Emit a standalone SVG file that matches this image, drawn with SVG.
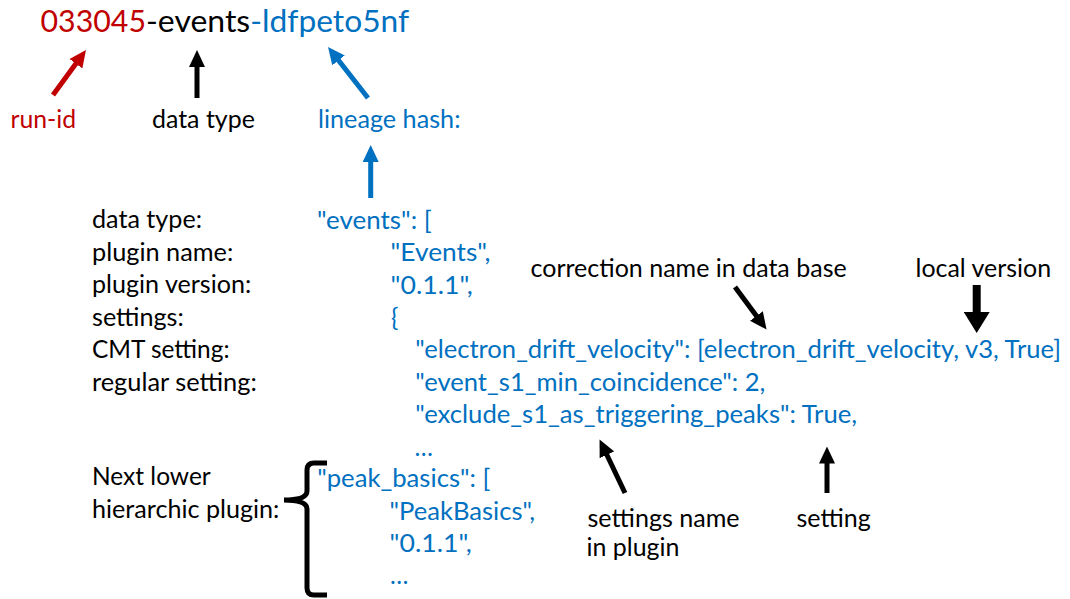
<svg xmlns="http://www.w3.org/2000/svg" width="1070" height="599" viewBox="0 0 1070 599">
<style>
text { font-family: Lato, "Liberation Sans", sans-serif; font-size: 24.5px; }
.k { fill: #000000; }
.b { fill: #0070C0; }
.r { fill: #C00000; }
.t { font-size: 31.5px; }
.ln { fill: none; stroke-width: 5; }
</style>
<defs>
<marker id="hk" markerUnits="userSpaceOnUse" markerWidth="17" markerHeight="16" viewBox="0 0 17 16" refX="2" refY="8" orient="auto"><path d="M0,0 L17,8 L0,16 z" fill="#000000"/></marker>
<marker id="hr" markerUnits="userSpaceOnUse" markerWidth="17" markerHeight="16" viewBox="0 0 17 16" refX="2" refY="8" orient="auto"><path d="M0,0 L17,8 L0,16 z" fill="#C00000"/></marker>
<marker id="hb" markerUnits="userSpaceOnUse" markerWidth="17" markerHeight="16" viewBox="0 0 17 16" refX="2" refY="8" orient="auto"><path d="M0,0 L17,8 L0,16 z" fill="#0070C0"/></marker>
<marker id="hkL" markerUnits="userSpaceOnUse" markerWidth="21" markerHeight="26" viewBox="0 0 21 26" refX="2" refY="13" orient="auto"><path d="M0,0 L21,13 L0,26 z" fill="#000000"/></marker>
</defs>

<g id="title">
<text x="40.5" y="31.5" class="t r" textLength="105.5" lengthAdjust="spacingAndGlyphs">033045</text>
<text x="146" y="31.5" class="t k" textLength="104.2" lengthAdjust="spacingAndGlyphs">-events</text>
<text x="250.2" y="31.5" class="t b" textLength="159" lengthAdjust="spacingAndGlyphs">-ldfpeto5nf</text>
</g>

<g id="label-run-id"><text x="10.5" y="128" class="r" textLength="65.6" lengthAdjust="spacingAndGlyphs">run-id</text></g>
<g id="label-data-type"><text x="152" y="128" class="k" textLength="102.8" lengthAdjust="spacingAndGlyphs">data type</text></g>
<g id="label-lineage-hash"><text x="318" y="128" class="b" textLength="142.5" lengthAdjust="spacingAndGlyphs">lineage hash:</text></g>

<g id="left-labels" class="k">
<text x="92" y="228" textLength="110" lengthAdjust="spacingAndGlyphs">data type:</text>
<text x="92" y="260.5" textLength="141.3" lengthAdjust="spacingAndGlyphs">plugin name:</text>
<text x="92" y="293" textLength="159.2" lengthAdjust="spacingAndGlyphs">plugin version:</text>
<text x="92" y="325.5" textLength="91.8" lengthAdjust="spacingAndGlyphs">settings:</text>
<text x="92" y="358" textLength="137.5" lengthAdjust="spacingAndGlyphs">CMT setting:</text>
<text x="92" y="390.5" textLength="164.8" lengthAdjust="spacingAndGlyphs">regular setting:</text>
<text x="92" y="485" textLength="118.8" lengthAdjust="spacingAndGlyphs">Next lower</text>
<text x="92" y="518" textLength="187.4" lengthAdjust="spacingAndGlyphs">hierarchic plugin:</text>
</g>

<g id="lineage-events" class="b">
<text x="317" y="228.5" textLength="114.7" lengthAdjust="spacingAndGlyphs">"events": [</text>
<text x="390.6" y="261" textLength="99.8" lengthAdjust="spacingAndGlyphs">"Events",</text>
<text x="390.6" y="293.5" textLength="82.1" lengthAdjust="spacingAndGlyphs">"0.1.1",</text>
<text x="391" y="326">{</text>
<text x="415.2" y="358" textLength="645.8" lengthAdjust="spacingAndGlyphs">"electron_drift_velocity": [electron_drift_velocity, v3, True]</text>
<text x="415.2" y="390.5" textLength="350.2" lengthAdjust="spacingAndGlyphs">"event_s1_min_coincidence": 2,</text>
<text x="415.2" y="423" textLength="441.9" lengthAdjust="spacingAndGlyphs">"exclude_s1_as_triggering_peaks": True,</text>
<text x="414.5" y="455.5" textLength="18.4" lengthAdjust="spacingAndGlyphs">…</text>
</g>

<g id="lineage-peak-basics" class="b">
<text x="317.2" y="487" textLength="173.2" lengthAdjust="spacingAndGlyphs">"peak_basics": [</text>
<text x="389.6" y="520" textLength="145.6" lengthAdjust="spacingAndGlyphs">"PeakBasics",</text>
<text x="389.6" y="552" textLength="82.1" lengthAdjust="spacingAndGlyphs">"0.1.1",</text>
<text x="390" y="584" textLength="18.4" lengthAdjust="spacingAndGlyphs">…</text>
</g>

<g id="brace">
<path class="ln" stroke="#000000" d="M327,463 H314 Q307,463 307,470 V491 Q307,500 284,500 Q307,500 307,509 V588 Q307,595 314,595 H327"/>
</g>

<g id="label-correction"><text x="530.5" y="277" class="k" textLength="316.2" lengthAdjust="spacingAndGlyphs">correction name in data base</text></g>
<g id="label-local-version"><text x="915.5" y="277" class="k" textLength="135.6" lengthAdjust="spacingAndGlyphs">local version</text></g>
<g id="label-settings-name" class="k">
<text x="587.5" y="527" textLength="152.1" lengthAdjust="spacingAndGlyphs">settings name</text>
<text x="586.5" y="556" textLength="92.9" lengthAdjust="spacingAndGlyphs">in plugin</text>
</g>
<g id="label-setting"><text x="796.5" y="527" class="k" textLength="74.2" lengthAdjust="spacingAndGlyphs">setting</text></g>

<g id="connectors">
<line class="ln" stroke="#C00000" x1="53" y1="95" x2="77.1" y2="62.1" marker-end="url(#hr)"/>
<line class="ln" stroke="#000000" x1="197" y1="98" x2="197" y2="65" marker-end="url(#hk)"/>
<line class="ln" stroke="#0070C0" x1="368" y1="98" x2="337.3" y2="58.8" marker-end="url(#hb)"/>
<line class="ln" stroke="#0070C0" x1="370.7" y1="198" x2="370.7" y2="160" marker-end="url(#hb)"/>
<line class="ln" stroke="#000000" x1="735" y1="287" x2="757.6" y2="317.5" marker-end="url(#hk)"/>
<line class="ln" stroke="#000000" stroke-width="8" x1="976.7" y1="285" x2="976.7" y2="314" marker-end="url(#hkL)" style="stroke-width:8"/>
<line class="ln" stroke="#000000" x1="625" y1="493" x2="606" y2="453" marker-end="url(#hk)"/>
<line class="ln" stroke="#000000" x1="827" y1="493" x2="827" y2="461.5" marker-end="url(#hk)"/>
</g>
</svg>
